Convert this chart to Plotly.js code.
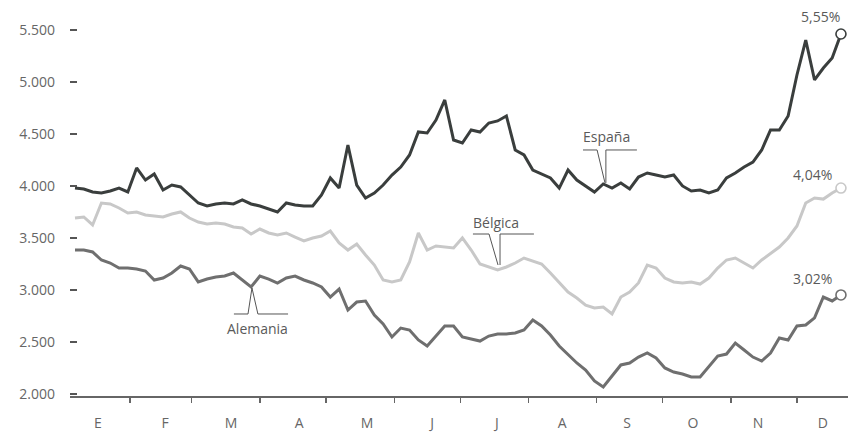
<!DOCTYPE html>
<html><head><meta charset="utf-8">
<script src="https://cdn.plot.ly/plotly-3.0.1.min.js"></script>
<style>html,body{margin:0;padding:0;background:#fff}#chart{width:848px;height:433px}</style>
</head><body><div id="chart"></div>
<script>
// Data: roughly every 4 days of 2010, starting 7 January
const firstDay = 6;      // day-of-year offset (0 = 1 Jan)
const stepDays = 4;
const monthLabels = ['E','F','M','A','M','J','J','A','S','O','N','D'];
const seriesNames = ['España','Bélgica','Alemania'];
const endLabels = ['5,55%','4,04%','3,02%'];
const yTicks = [2000,2500,3000,3500,4000,4500,5000,5500];

const espana = [3980,3971,3942,3932,3952,3980,3942,4173,4057,4115,
  3961,4009,3990,3913,3836,3807,3827,3836,3827,3865,
  3827,3807,3778,3750,3836,3817,3807,3807,3913,4077,
  3980,4394,4009,3884,3932,4009,4105,4182,4298,4519,
  4509,4634,4827,4442,4413,4538,4519,4605,4625,4673,
  4346,4298,4153,4115,4077,3980,4153,4057,4000,3942,
  4019,3980,4028,3971,4086,4125,4105,4086,4105,4000,
  3952,3961,3932,3961,4077,4125,4182,4230,4346,4538,
  4538,4673,5067,5403,5019,5134,5230,5461];
const belgica = [3692,3702,3625,3836,3827,3788,3740,3750,3721,3711,
  3702,3730,3750,3692,3653,3634,3644,3634,3605,3596,
  3538,3586,3548,3529,3548,3509,3471,3500,3519,3567,
  3452,3384,3442,3336,3240,3096,3077,3096,3269,3548,
  3384,3423,3413,3404,3500,3384,3250,3221,3192,3221,
  3259,3307,3279,3250,3163,3067,2980,2923,2855,2827,
  2836,2769,2932,2980,3067,3240,3211,3115,3077,3067,
  3077,3057,3115,3211,3288,3307,3259,3211,3288,3355,
  3413,3500,3615,3836,3884,3874,3932,3980];
const alemania = [3384,3384,3365,3288,3259,3211,3211,3202,3182,3096,
  3115,3163,3230,3202,3077,3105,3125,3134,3163,3096,
  3029,3134,3105,3067,3115,3134,3096,3067,3029,2932,
  3009,2807,2884,2894,2759,2673,2548,2634,2615,2519,
  2461,2557,2654,2654,2548,2529,2509,2557,2577,2577,
  2586,2615,2711,2654,2567,2461,2384,2298,2231,2125,
  2067,2173,2279,2298,2355,2394,2346,2250,2211,2192,
  2163,2163,2259,2365,2384,2490,2423,2355,2317,2394,
  2538,2519,2654,2663,2731,2932,2894,2952];

function dayToDate(d){
  const t = Date.UTC(2010,0,1) + d*86400000;
  return new Date(t).toISOString().slice(0,19).replace('T',' ');
}
const dates = espana.map((_,i)=>dayToDate(firstDay + stepDays*i));

const colors = ['#3a3e3d','#c8c8c8','#6f6f6f'];
const allSeries = [espana, belgica, alemania];
const txt = '#5a5a5a';
const font = 'Open Sans, Lato, sans-serif';

const traces = allSeries.map((s,k)=>({
  x: dates, y: s, type:'scatter', mode:'lines', name: seriesNames[k],
  line:{color: colors[k], width:3}, hoverinfo:'skip'
}));
allSeries.forEach((s,k)=>{
  traces.push({x:[dates[dates.length-1]], y:[s[s.length-1]], type:'scatter', mode:'markers',
    marker:{symbol:'circle', size:10, color:'#fff', line:{color: colors[k], width:1.6}},
    hoverinfo:'skip', cliponaxis:false});
});

const labelDays = [16.4,46.9,76.9,107.8,138.7,168.2,197.7,227.3,256.8,286.8,316.3,345.8];

function seg(d0,v0,d1,v1){
  return {type:'line', xref:'x', yref:'y', x0:dayToDate(d0), y0:v0, x1:dayToDate(d1), y1:v1,
    line:{color:'#555', width:1}};
}
const shapes = [
  // España
  seg(236.8,4346,243.2,4346), seg(243.2,4346,246.8,4029), seg(247.2,4029,247.2,4346), seg(247.2,4346,261.3,4346),
  // Bélgica
  seg(186.8,3538,194.1,3538), seg(194.1,3538,198.2,3240), seg(199.1,3240,199.1,3538), seg(199.1,3538,214.5,3538),
  // Alemania
  seg(78.2,2769,84.6,2769), seg(84.6,2769,86.4,3019), seg(86.4,3019,89.1,2769), seg(89.1,2769,102.8,2769)
];

const annFont = {family: font, size:14, color: txt};
const lastDate = dates[dates.length-1];
const annotations = [
  {x:dayToDate(247.6), y:4471, text:seriesNames[0], showarrow:false, font:annFont},
  {x:dayToDate(197.3), y:3653, text:seriesNames[1], showarrow:false, font:annFont},
  {x:dayToDate(89.1), y:2634, text:seriesNames[2], showarrow:false, font:annFont},
  {x:lastDate, y:espana[espana.length-1], text:endLabels[0], showarrow:false, font:annFont, xanchor:'right', xshift:1, yshift:18},
  {x:lastDate, y:belgica[belgica.length-1], text:endLabels[1], showarrow:false, font:annFont, xanchor:'right', xshift:-7, yshift:14},
  {x:lastDate, y:alemania[alemania.length-1], text:endLabels[2], showarrow:false, font:annFont, xanchor:'right', xshift:-7, yshift:16}
];

const layout = {
  width:848, height:433,
  margin:{l:70, r:0, t:0, b:37},
  paper_bgcolor:'#fff', plot_bgcolor:'#fff',
  showlegend:false,
  separators:',.',
  font:{family: font, color: txt, size:13},
  xaxis:{
    type:'date', range:[dayToDate(3.73), dayToDate(357.2)],
    tickmode:'array', tickvals: labelDays.map(dayToDate), ticktext: monthLabels,
    ticks:'', showgrid:false, zeroline:false,
    showline:true, linecolor:'#666', linewidth:1.5,
    tickfont:{family: font, size:14, color:'#666'},
    ticklabelstandoff:14,
    minor:{ticks:'outside', ticklen:5, tickwidth:1.3, tickcolor:'#666', dtick:'M1', tick0:'2010-01-01', showgrid:false}
  },
  yaxis:{
    range:[1980.5, 5788],
    tickmode:'array', tickvals: yTicks, tickformat:',d',
    ticks:'inside', ticklen:7, tickwidth:1.3, tickcolor:'#555',
    showgrid:false, zeroline:false, showline:false,
    tickfont:{family: font, size:14, color:'#666'},
    ticklabelstandoff:14
  },
  shapes: shapes,
  annotations: annotations
};

Plotly.newPlot('chart', traces, layout, {displayModeBar:false, staticPlot:true});
</script>
</body></html>
